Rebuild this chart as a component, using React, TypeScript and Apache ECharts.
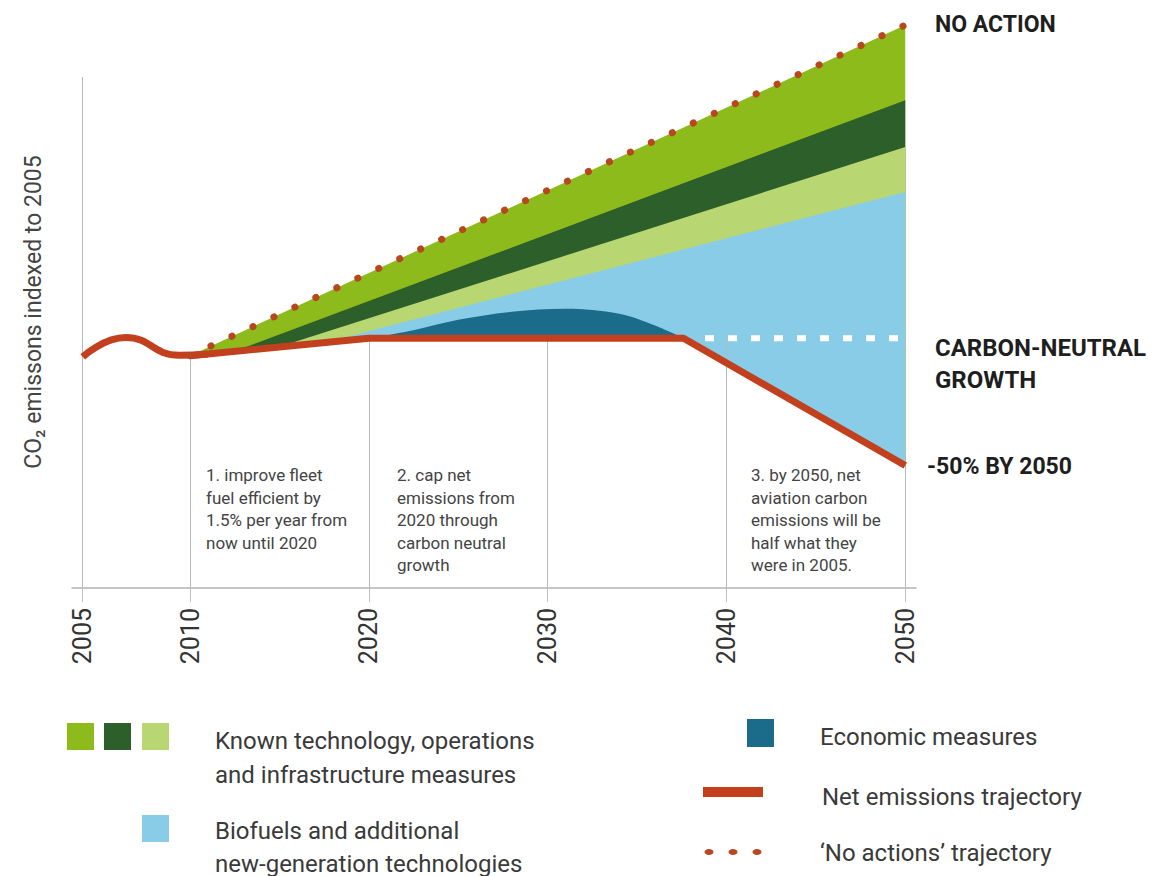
import React, { useEffect, useRef } from "react";
import * as echarts from "echarts";

// ---- data (index, 2005 = 100) ----
const tickYears = [2005, 2010, 2020, 2030, 2040, 2050];

const netEarlyYears = [2005, 2007, 2009.5, 2011];
const netEarlyValues = [100, 108.3, 100.7, 101.25];

const netYears = [2010, 2020, 2037.6, 2050];
const netValues = [100.5, 108, 108, 53];

const noActionYears = [2010, 2050];
const noActionValues = [100.5, 243.5];

const darkGreenTopYears = [2012.5, 2050];
const darkGreenTopValues = [102.4, 211];

const lightGreenTopYears = [2015, 2050];
const lightGreenTopValues = [104.3, 190.7];

const biofuelTopYears = [2017.5, 2050];
const biofuelTopValues = [106.1, 171.3];

const economicYears = [2020, 2022.5, 2025, 2028, 2031, 2034, 2036, 2037.6];
const economicValues = [108, 111.5, 116, 119.5, 120.8, 118.6, 113.5, 108];

const CARBON_NEUTRAL = 108;
const carbonNeutralYears = [2038.8, 2050];
const Y_AXIS_TOP = 221;

// The original axis gives 2005–2010 a wider span (6 units for 5 years)
const pos = (y: number) => (y < 2010 ? 2010 - (2010 - y) * 1.2 : y);
const pairs = (xs: number[], ys: number[]) => xs.map((x, i) => [pos(x), ys[i]]);

const C = {
  green: "#8cbb1b",
  darkGreen: "#2d5f2b",
  lightGreen: "#b8d672",
  blue: "#88cce7",
  teal: "#1b6b8b",
  red: "#c2401d",
  dot: "#b8461f",
  text: "#3a3a3a",
  grid: "#b9b9b9",
};
const FONT = "Roboto";

const area = (name: string, xs: number[], ys: number[], color: string, extra: any = {}) => ({
  type: "line",
  name,
  data: pairs(xs, ys),
  symbol: "none",
  silent: true,
  lineStyle: { width: 0 },
  areaStyle: { color, opacity: 1, origin: "start" },
  ...extra,
});

const gridTop = (y: number) =>
  y === 2010 ? netValues[0] : y === 2050 ? netValues[netValues.length - 1] : CARBON_NEUTRAL;

const txt = (text: string, x: number, y: number, size: number, extra: any = {}) => ({
  type: "text",
  x,
  y,
  z: 100,
  silent: true,
  style: {
    text,
    fill: C.text,
    fontSize: size,
    fontFamily: FONT,
    align: "left",
    verticalAlign: "middle",
    ...extra,
  },
});

const box = (x: number, y: number, w: number, h: number, fill: string) => ({
  type: "rect",
  z: 100,
  silent: true,
  shape: { x, y, width: w, height: h },
  style: { fill },
});

const dot = (cx: number) => ({
  type: "ellipse",
  z: 100,
  silent: true,
  shape: { cx, cy: 852, rx: 4.5, ry: 3 },
  style: { fill: C.dot },
});

const option: any = {
  animation: false,
  backgroundColor: "#ffffff",
  grid: { left: 72, right: 244, top: 10, bottom: 288 },
  xAxis: {
    type: "value",
    min: 2003.4,
    max: 2050.6,
    z: 8,
    splitLine: { show: false },
    axisLine: { lineStyle: { color: "#b3b3b3", width: 1.5 } },
    axisTick: {
      customValues: tickYears.map(pos),
      length: 14,
      lineStyle: { color: "#c0c0c0", width: 1 },
    },
    axisLabel: {
      customValues: tickYears.map(pos),
      rotate: 90,
      margin: 20,
      fontSize: 25,
      fontFamily: FONT,
      color: "#333",
      formatter: (v: number) => String(tickYears[tickYears.map(pos).findIndex((p) => Math.abs(p - v) < 0.01)]),
    },
  },
  yAxis: { type: "value", min: 0, max: 250, show: false },
  series: [
    area("No action (known technology)", noActionYears, noActionValues, C.green),
    area("Known technology 2", darkGreenTopYears, darkGreenTopValues, C.darkGreen),
    area("Known technology 3", lightGreenTopYears, lightGreenTopValues, C.lightGreen),
    area("Biofuels", biofuelTopYears, biofuelTopValues, C.blue),
    area("Economic measures", economicYears, economicValues, C.teal, { smooth: 0.35 }),
    area("mask", netYears, netValues, "#ffffff", {
      markLine: {
        silent: true,
        symbol: "none",
        label: { show: false },
        emphasis: { disabled: true },
        lineStyle: { color: C.grid, width: 1, type: "solid" },
        data: [
          [{ coord: [pos(2005), 0] }, { coord: [pos(2005), Y_AXIS_TOP] }],
          ...tickYears.slice(1).map((y) => [{ coord: [pos(y), 0] }, { coord: [pos(y), gridTop(y)] }]),
        ],
      },
    }),
    {
      type: "line",
      name: "Carbon-neutral level",
      data: carbonNeutralYears.map((y) => [pos(y), CARBON_NEUTRAL]),
      symbol: "none",
      silent: true,
      z: 6,
      lineStyle: { color: "#ffffff", width: 6, type: [9, 14] },
    },
    {
      type: "line",
      name: "Net emissions early",
      data: pairs(netEarlyYears, netEarlyValues),
      symbol: "none",
      smooth: 0.5,
      silent: true,
      z: 7,
      lineStyle: { color: C.red, width: 7 },
    },
    {
      type: "line",
      name: "Net emissions trajectory",
      data: pairs(netYears, netValues),
      symbol: "none",
      silent: true,
      z: 7,
      lineStyle: { color: C.red, width: 7, join: "round" },
    },
    {
      type: "line",
      name: "'No actions' trajectory",
      data: pairs(noActionYears, noActionValues),
      symbol: "none",
      silent: true,
      z: 7,
      lineStyle: { color: C.dot, width: 7, type: [0.1, 23], cap: "round" },
    },
  ],
  graphic: [
    {
      type: "text",
      x: 33,
      y: 312,
      z: 100,
      rotation: Math.PI / 2,
      silent: true,
      style: {
        text: "CO₂ emissons indexed to 2005",
        fill: "#444",
        fontSize: 23,
        fontFamily: FONT,
        align: "center",
        verticalAlign: "middle",
      },
    },
    txt("1. improve fleet\nfuel efficient by\n1.5% per year from\nnow until 2020", 206, 464, 17, {
      verticalAlign: "top",
      lineHeight: 22.5,
      fill: "#444",
    }),
    txt("2. cap net\nemissions from\n2020 through\ncarbon neutral\ngrowth", 397, 464, 17, {
      verticalAlign: "top",
      lineHeight: 22.5,
      fill: "#444",
    }),
    txt("3. by 2050, net\naviation carbon\nemissions will be\nhalf what they\nwere in 2005.", 751, 464, 17, {
      verticalAlign: "top",
      lineHeight: 22.5,
      fill: "#444",
    }),
    txt("NO ACTION", 935, 24, 23, { fontWeight: "bold", fill: "#1e1e1e" }),
    txt("CARBON-NEUTRAL\nGROWTH", 935, 364, 24, { fontWeight: "bold", fill: "#1e1e1e", lineHeight: 32 }),
    txt("-50% BY 2050", 927, 466, 23, { fontWeight: "bold", fill: "#1e1e1e" }),
    // legend
    box(67, 723, 27, 27, C.green),
    box(104, 723, 27, 27, C.darkGreen),
    box(142, 723, 27, 27, C.lightGreen),
    box(142, 815, 27, 27, C.blue),
    txt("Known technology, operations\nand infrastructure measures", 215, 724, 24, {
      verticalAlign: "top",
      lineHeight: 34,
    }),
    txt("Biofuels and additional\nnew-generation technologies", 215, 814, 24, {
      verticalAlign: "top",
      lineHeight: 33,
    }),
    box(747, 719, 27, 28, C.teal),
    box(703, 787, 60, 10, C.red),
    dot(709),
    dot(733),
    dot(757),
    txt("Economic measures", 820, 737, 24),
    txt("Net emissions trajectory", 822, 797, 24),
    txt("‘No actions’ trajectory", 820, 853, 24),
  ],
};

export default function App() {
  const ref = useRef<HTMLDivElement>(null);
  useEffect(() => {
    const chart = echarts.init(ref.current!, null, { renderer: "svg" });
    chart.setOption(option);
    return () => chart.dispose();
  }, []);
  return (
    <div
      ref={ref}
      style={{ position: "absolute", left: 0, top: 0, width: 1160, height: 876, background: "#fff" }}
    />
  );
}
